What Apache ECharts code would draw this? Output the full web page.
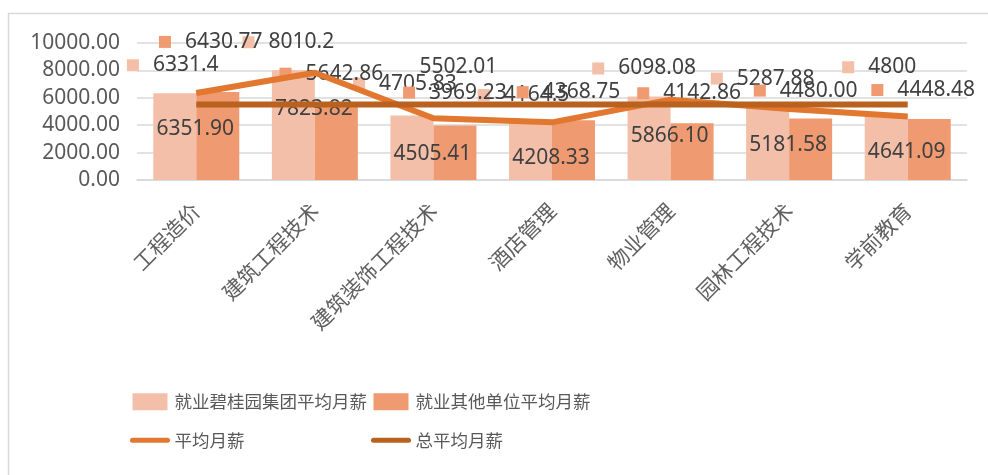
<!DOCTYPE html>
<html>
<head>
<meta charset="utf-8">
<script src="https://cdn.jsdelivr.net/npm/echarts@6/dist/echarts.min.js"></script>
<style>
	html, body { margin: 0; padding: 0; background: #fff; }
	#main { width: 988px; height: 475px; }
</style>
</head>
<body>
<div id="main"></div>
<script>
var categories = ["工程造价", "建筑工程技术", "建筑装饰工程技术", "酒店管理", "物业管理", "园林工程技术", "学前教育"];
var bgyPay = [6331.4, 8010.2, 4705.83, 4164.5, 6098.08, 5287.88, 4800];
var otherPay = [6430.77, 5642.86, 3969.23, 4368.75, 4142.86, 4480.00, 4448.48];
var avgPay = [6351.90, 7823.82, 4505.41, 4208.33, 5866.10, 5181.58, 4641.09];
var totalAvg = [5502.01, 5502.01, 5502.01, 5502.01, 5502.01, 5502.01, 5502.01];
var seriesNames = ["就业碧桂园集团平均月薪", "就业其他单位平均月薪", "平均月薪", "总平均月薪"];

(function() {
	var myChart = echarts.init(document.getElementById("main"));

	var lightColor = "#F4BFA9";
	var darkColor = "#EF9A70";
	var avgColor = "#E2772F";
	var totalColor = "#B9611F";
	var numFont = "'Noto Sans', 'Noto Sans CJK SC', sans-serif";
	var cjkFont = "'Noto Sans CJK SC', sans-serif";

	// label nudges, the original data labels were dragged around by hand
	var bgyShift = [[-2, -16], [-5, -16], [-7, -20], [-7, -16], [-5, -16], [-5, -17], [-7, -35]];
	var otherShift = [[-7, -38], [-5, -17], [0, -21], [-5, -16], [-3, -18], [-5, -16], [-6, -17]];

	function keyLabel(color, fmt) {
		return {
			show: true,
			position: "top",
			distance: 0,
			formatter: function(p) {
				return "{k|}{v|" + fmt(p.value) + "}";
			},
			rich: {
				k: { width: 12, height: 12, backgroundColor: color },
				v: { fontSize: 21, lineHeight: 24, color: "#404040", fontFamily: numFont, padding: [0, 0, 0, 14] }
			}
		};
	}

	function legendAt(left, names) {
		return {
			orient: "vertical",
			left: left,
			top: 393,
			padding: 0,
			itemWidth: 35,
			itemHeight: 17,
			itemGap: 21,
			selectedMode: false,
			lineStyle: { width: 5, cap: "round" },
			textStyle: { fontSize: 17.5, color: "#595959", fontFamily: cjkFont, padding: [0, 0, 0, 2] },
			data: names
		};
	}

	var option = {
		animation: false,
		graphic: [{
			type: "rect",
			shape: { x: 8.5, y: 13.5, width: 1000, height: 500 },
			style: { fill: "none", stroke: "#D9D9D9", lineWidth: 1.5 },
			silent: true
		}],
		grid: { left: 137, right: 21, top: 43, bottom: 295 },
		legend: [
			legendAt(130, [{ name: seriesNames[0], icon: "rect" }, seriesNames[2]]),
			legendAt(371, [{ name: seriesNames[1], icon: "rect" }, seriesNames[3]])
		],
		xAxis: {
			type: "category",
			data: categories,
			axisTick: { show: false },
			axisLine: { lineStyle: { color: "#D9D9D9", width: 1.5 } },
			axisLabel: {
				interval: 0,
				rotate: 45,
				margin: 27,
				fontSize: 21,
				color: "#606060",
				fontFamily: cjkFont
			}
		},
		yAxis: {
			type: "value",
			min: 0,
			max: 10000,
			interval: 2000,
			axisLine: { show: false },
			axisTick: { show: false },
			splitLine: { lineStyle: { color: "#D9D9D9", width: 1.5 } },
			axisLabel: {
				margin: 17,
				fontSize: 21,
				color: "#595959",
				fontFamily: numFont,
				formatter: function(v) { return v.toFixed(2); }
			}
		},
		series: [{
			name: seriesNames[0],
			type: "bar",
			barWidth: 43,
			barGap: "0%",
			itemStyle: { color: lightColor },
			label: keyLabel(lightColor, function(v) { return String(v); }),
			data: bgyPay.map(function(v, i) {
				return { value: v, label: { offset: bgyShift[i] } };
			}),
			z: 2
		}, {
			name: seriesNames[1],
			type: "bar",
			barWidth: 43,
			barGap: "0%",
			itemStyle: { color: darkColor },
			label: keyLabel(darkColor, function(v) { return v.toFixed(2); }),
			data: otherPay.map(function(v, i) {
				return { value: v, label: { offset: otherShift[i] } };
			}),
			z: 2
		}, {
			name: seriesNames[2],
			type: "line",
			symbol: "circle",
			symbolSize: 1,
			itemStyle: { color: "rgba(0,0,0,0)" },
			lineStyle: { color: avgColor, width: 6 },
			label: {
				show: true,
				position: "inside",
				offset: [-1, 36],
				fontSize: 21,
				color: "#404040",
				fontFamily: numFont,
				formatter: function(p) { return p.value.toFixed(2); }
			},
			data: avgPay,
			z: 4
		}, {
			name: seriesNames[3],
			type: "line",
			symbol: "circle",
			symbolSize: 1,
			itemStyle: { color: "rgba(0,0,0,0)" },
			lineStyle: { color: totalColor, width: 6 },
			label: {
				show: false,
				position: "inside",
				fontSize: 21,
				color: "#404040",
				fontFamily: numFont,
				formatter: function(p) { return p.value.toFixed(2); }
			},
			data: totalAvg.map(function(v, i) {
				return i === 2 ? { value: v, label: { show: true, offset: [25, -38] } } : v;
			}),
			z: 5
		}]
	};

	myChart.setOption(option);

	window.addEventListener("resize", function() {
		myChart.resize();
	});
})();
</script>
</body>
</html>
